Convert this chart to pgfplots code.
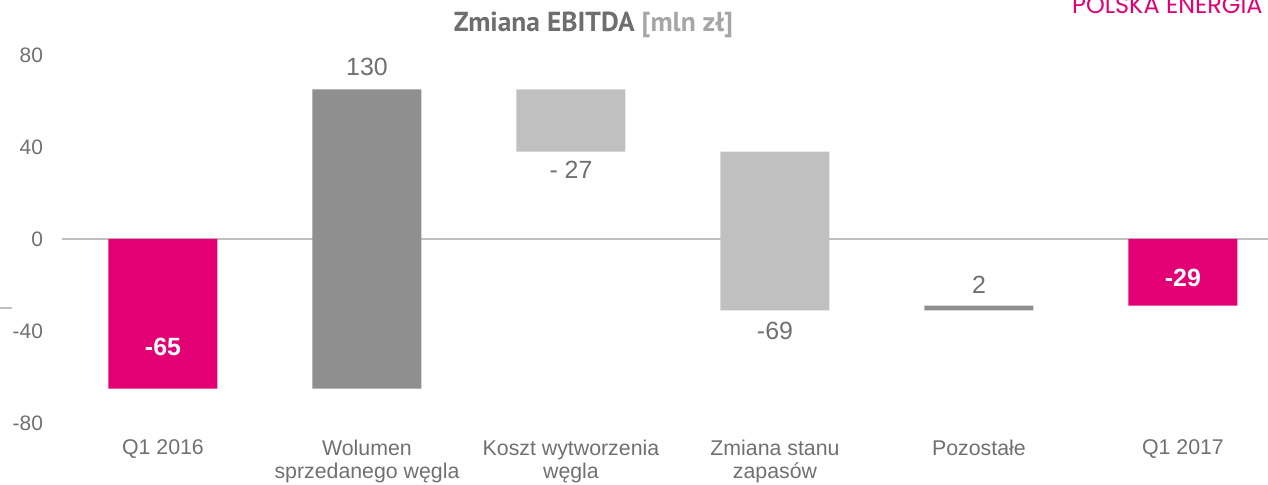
\documentclass[border=0pt]{standalone}
\usepackage{fontspec}
\setmainfont{Liberation Sans}
\newfontfamily\titlefont{PT Sans}
\newfontfamily\brandfont{Poppins}
\usepackage{pgfplots}
\pgfplotsset{compat=1.18}
\definecolor{tmagenta}{RGB}{226,0,116}
\definecolor{darkbar}{RGB}{143,143,143}
\definecolor{lightbar}{RGB}{192,192,192}
\definecolor{labelgray}{RGB}{112,112,112}
\definecolor{zeroline}{RGB}{191,191,191}
\definecolor{titlegray}{RGB}{110,110,110}
\definecolor{titlelight}{RGB}{166,166,166}

\begin{document}
\begin{tikzpicture}
\begin{axis}[
  name=main,
  scale only axis,
  width=603bp, height=184bp,
  xmin=-0.495, xmax=5.417,
  ymin=-80, ymax=80,
  ybar stacked,
  stack negative=on previous,
  bar width=54.5bp,
  axis line style={draw=none},
  major tick length=0pt,
  xtick={0,...,5},
  xticklabels={Q1 2016, {Wolumen\\sprzedanego węgla}, {Koszt wytworzenia\\węgla}, {Zmiana stanu\\zapasów}, Pozostałe, Q1 2017},
  xticklabel style={align=center, font=\fontsize{10.7}{11.5}\selectfont, text=labelgray, yshift=-5bp},
  ytick={-80,-40,0,40,80},
  yticklabel style={font=\fontsize{10.5}{12}\selectfont, text=labelgray, xshift=-6bp},
  /pgf/number format/assume math mode=true,
  extra y ticks={0},
  extra y tick labels={},
  extra y tick style={grid=major, major grid style={zeroline, line width=1bp}},
  clip=false,
]
% invisible base of the waterfall
\addplot[fill=none, draw=none] coordinates {(0,0) (1,-65) (2,65) (3,38) (4,-31) (5,0)};
\addplot[fill=tmagenta, draw=none] coordinates {(0,-65) (1,0) (2,0) (3,0) (4,0) (5,-29)};
\addplot[fill=darkbar, draw=none] coordinates {(0,0) (1,130) (2,0) (3,0) (4,2) (5,0)};
\addplot[fill=lightbar, draw=none] coordinates {(0,0) (1,0) (2,-27) (3,-69) (4,0) (5,0)};

\coordinate (l0) at (axis cs:0,-47);
\coordinate (l1) at (axis cs:1,75);
\coordinate (l2) at (axis cs:2,30);
\coordinate (l3) at (axis cs:3,-40);
\coordinate (l4) at (axis cs:4,-20);
\coordinate (l5) at (axis cs:5,-17);
\coordinate (ttl) at ([yshift=15bp]axis cs:2.11,80);
\coordinate (brand) at ([yshift=20.5bp]axis cs:5.392,80);
\draw[zeroline, line width=1bp] ([xshift=-31bp]rel axis cs:0,0.3125) -- ([xshift=-25bp]rel axis cs:0,0.3125);
\end{axis}
\node[font=\bfseries\fontsize{12.5}{14}\selectfont, text=white] at (l0) {-65};
\node[font=\fontsize{12.5}{14}\selectfont, text=labelgray] at (l1) {130};
\node[font=\fontsize{12.5}{14}\selectfont, text=labelgray] at (l2) {- 27};
\node[font=\fontsize{12.5}{14}\selectfont, text=labelgray] at (l3) {-69};
\node[font=\fontsize{12.5}{14}\selectfont, text=labelgray] at (l4) {2};
\node[font=\bfseries\fontsize{12.5}{14}\selectfont, text=white] at (l5) {-29};
\node[font=\titlefont\bfseries\fontsize{13.8}{15}\selectfont] at (ttl)
  {\textcolor{titlegray}{Zmiana EBITDA} \textcolor{titlelight}{[mln zł]}};
\node[anchor=base east, inner sep=0pt, font=\brandfont\fontsize{12}{14}\selectfont, text=tmagenta]
  at (brand) {POLSKA ENERGIA};
\pgfresetboundingbox
\path ([xshift=-31bp,yshift=-31bp]main.south west) rectangle ([yshift=27.5bp]main.north east);
\end{tikzpicture}
\end{document}
